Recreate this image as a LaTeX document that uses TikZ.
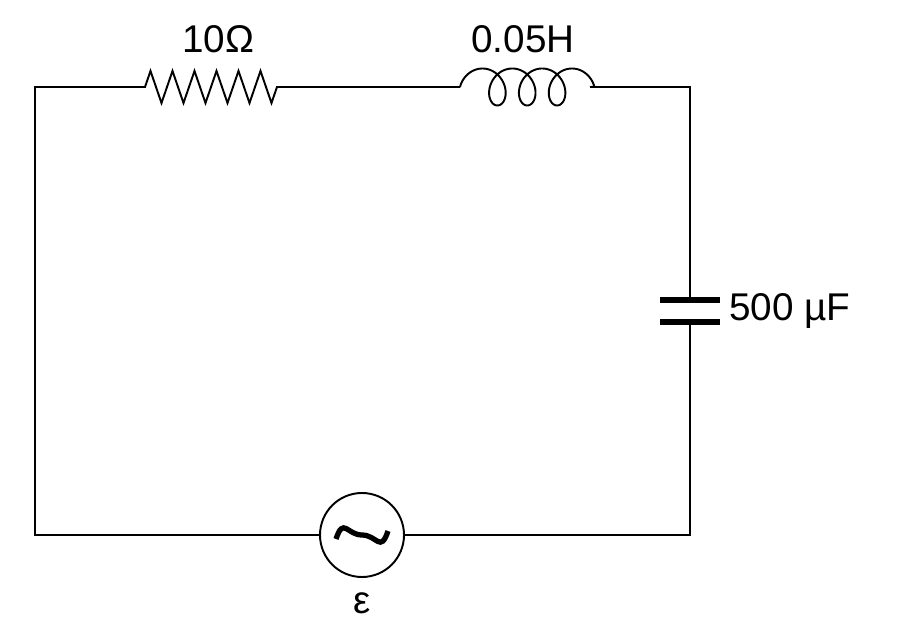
\documentclass[tikz,border=0pt]{standalone}
\usepackage{fontspec}
\setmainfont{Liberation Sans}
\usepackage{tikz}

\begin{document}
\begin{tikzpicture}[line width=1.1pt,
	every node/.style={font=\fontsize{22}{26}\selectfont},
	plate/.style={line width=3pt}]
	\useasboundingbox (0,0) rectangle (18,12.52);
	% corners and terminals
	\coordinate (tl) at (0.7,10.78);
	\coordinate (tr) at (13.8,10.78);
	\coordinate (bl) at (0.7,1.82);
	\coordinate (br) at (13.8,1.82);
	\coordinate (ra) at (2.6,10.78);
	\coordinate (rb) at (5.9,10.78);
	\coordinate (la) at (9.15,10.78);
	\coordinate (lb) at (11.8,10.78);
	\coordinate (ca) at (13.8,6.52);
	\coordinate (cb) at (13.8,6.08);
	\node[circle,draw,minimum size=1.68cm,inner sep=0pt] (src) at (7.24,1.82) {};

	\draw (ra) -- (tl) -- (bl) -- (src);
	\draw (src) -- (br) -- (cb);
	\draw (ca) -- (tr) -- (lb);
	\draw (la) -- (rb);
	% resistor
	\draw (ra) -- ++(0.3,0) -- ++(0.11,0.32)
		\foreach \i in {0,...,4} {-- ++(0.22,-0.64) -- ++(0.22,0.64)}
		-- ++(0.22,-0.64) -- ++(0.11,0.32) -- (rb);
	% inductor
	\draw (la) -- ++(0.05,0)
		plot[domain=0:21.99,samples=240,smooth]
		({9.2+0.3+0.095*\x-0.3*cos(\x r)},{10.78+0.37*sin(\x r)}) -- (lb);
	% capacitor
	\draw[plate] (13.2,6.52) -- (14.4,6.52);
	\draw[plate] (13.2,6.08) -- (14.4,6.08);
	% tilde
	\draw[line width=3pt] (src.center) ++(-0.52,-0.08)
		.. controls +(0.15,0.45) and +(-0.3,0) .. ++(0.52,0.08)
		.. controls +(0.3,0) and +(-0.15,-0.45) .. ++(0.52,0.08);

	\node (rlab) at (4.36,11.74) {10Ω};
	\node (llab) at (10.46,11.74) {0.05H};
	\node[anchor=west] (clab) at (14.45,6.3) {500 µF};
	\node (elab) at (7.24,0.45) {ε};
\end{tikzpicture}
\end{document}
